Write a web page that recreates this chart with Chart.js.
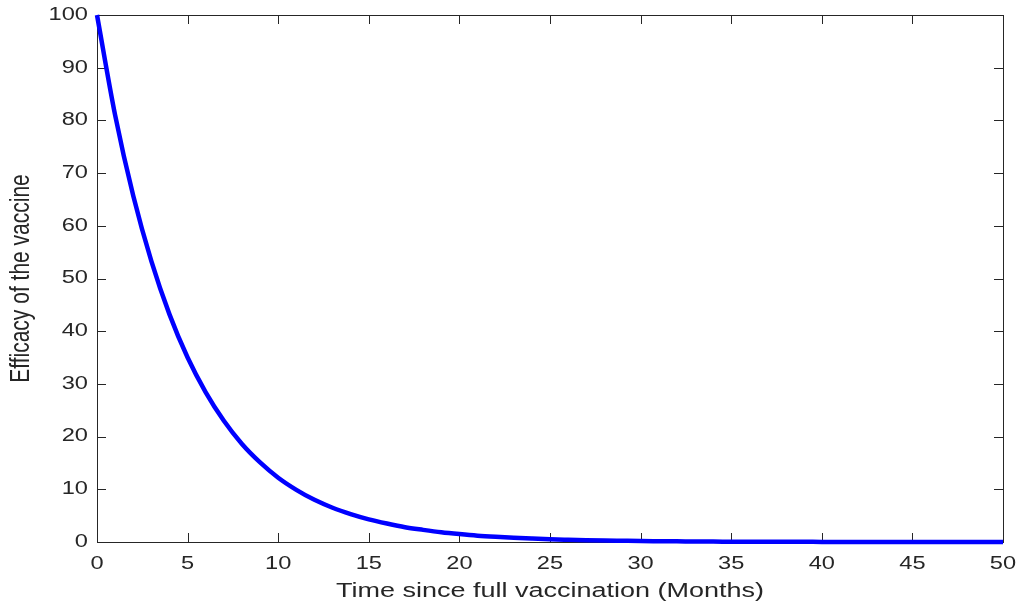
<!DOCTYPE html>
<html lang="en">
<head>
    <meta charset="UTF-8">
    <title>Efficacy of the vaccine</title>
    <script src="https://cdn.jsdelivr.net/npm/chart.js"></script>
    <style>
        body { margin: 0; background: #fff; }
        #wrap { width: 1021px; height: 605px; position: relative; }
    </style>
</head>
<body>
    <div id="wrap"><canvas id="myChart"></canvas></div>
    <script>
        // months since full vaccination and efficacy
        const months = [0, 1, 2, 3, 4, 5, 6, 7, 8, 9, 10, 11, 12, 13, 14, 15, 16, 17, 18, 19, 20,
            21, 22, 23, 24, 25, 26, 27, 28, 29, 30, 31, 32, 33, 34, 35, 36, 37, 38, 39, 40,
            41, 42, 43, 44, 45, 46, 47, 48, 49, 50];
        const efficacy = [100, 81, 65.7, 53.3, 43.2, 35, 28.4, 23, 18.6, 15.1, 12.2, 9.9, 8.0, 6.5, 5.3, 4.3, 3.5, 2.8, 2.3, 1.85, 1.5,
            1.2, 0.98, 0.8, 0.65, 0.52, 0.43, 0.35, 0.28, 0.23, 0.18, 0.15, 0.12, 0.1, 0.08, 0.06, 0.05, 0.04, 0.03, 0.03, 0.02,
            0.02, 0.01, 0.01, 0.01, 0.01, 0.01, 0, 0, 0, 0];
        const xTicks = [0, 5, 10, 15, 20, 25, 30, 35, 40, 45, 50];
        const yTicks = [0, 10, 20, 30, 40, 50, 60, 70, 80, 90, 100];
        const xTitle = 'Time since full vaccination (Months)';
        const yTitle = 'Efficacy of the vaccine';

        const textColor = '#262626';
        const stretch = 1.35; // the figure text is wider than normal

        function stretchedText(ctx, text, x, y, size, align) {
            ctx.save();
            ctx.translate(x, y);
            ctx.scale(stretch, 1);
            ctx.font = size + 'px "Liberation Sans", Arial, sans-serif';
            ctx.fillStyle = textColor;
            ctx.textAlign = align;
            ctx.textBaseline = 'middle';
            ctx.fillText(text, 0, 0);
            ctx.restore();
        }

        // matlab style box with inward ticks
        const boxPlugin = {
            id: 'box',
            beforeDatasetsDraw(chart) {
                const ctx = chart.ctx;
                const a = chart.chartArea;
                const xs = chart.scales.x, ys = chart.scales.y;
                ctx.save();
                ctx.strokeStyle = textColor;
                ctx.lineWidth = 1;
                ctx.strokeRect(a.left + 0.5, a.top + 0.5, a.right - a.left, a.bottom - a.top);
                ctx.beginPath();
                xTicks.forEach(v => {
                    const px = Math.round(xs.getPixelForValue(v)) + 0.5;
                    ctx.moveTo(px, a.bottom); ctx.lineTo(px, a.bottom - 9);
                    ctx.moveTo(px, a.top); ctx.lineTo(px, a.top + 9);
                });
                yTicks.forEach(v => {
                    const py = Math.round(ys.getPixelForValue(v)) + 0.5;
                    ctx.moveTo(a.left, py); ctx.lineTo(a.left + 9, py);
                    ctx.moveTo(a.right, py); ctx.lineTo(a.right - 9, py);
                });
                ctx.stroke();
                ctx.restore();
            },
            afterDraw(chart) {
                const ctx = chart.ctx;
                const a = chart.chartArea;
                const xs = chart.scales.x, ys = chart.scales.y;
                xTicks.forEach(v => {
                    stretchedText(ctx, String(v), xs.getPixelForValue(v), a.bottom + 22, 17.5, 'center');
                });
                yTicks.forEach(v => {
                    stretchedText(ctx, String(v), a.left - 9, ys.getPixelForValue(v), 17.5, 'right');
                });
                stretchedText(ctx, xTitle, (a.left + a.right) / 2, a.bottom + 49, 20, 'center');

                // rotated y title, stretched across its height
                ctx.save();
                ctx.translate(21, (a.top + a.bottom) / 2);
                ctx.rotate(-Math.PI / 2);
                ctx.scale(1, stretch);
                ctx.font = '21px "Liberation Sans", Arial, sans-serif';
                ctx.fillStyle = textColor;
                ctx.textAlign = 'center';
                ctx.textBaseline = 'middle';
                ctx.fillText(yTitle, 0, 0);
                ctx.restore();
            }
        };

        const ctx = document.getElementById('myChart').getContext('2d');
        const chart = new Chart(ctx, {
            type: 'line',
            data: {
                datasets: [{
                    label: 'Efficacy',
                    data: months.map((m, i) => ({ x: m, y: efficacy[i] })),
                    borderColor: '#0000ff',
                    borderWidth: 4.5,
                    pointRadius: 0,
                    cubicInterpolationMode: 'monotone',
                    clip: false
                }]
            },
            options: {
                responsive: true,
                maintainAspectRatio: false,
                animation: false,
                layout: { padding: { top: 15, right: 18, left: 0, bottom: 0 } },
                plugins: { legend: { display: false }, tooltip: { enabled: false } },
                scales: {
                    x: {
                        type: 'linear', min: 0, max: 50,
                        ticks: { display: false, stepSize: 5 },
                        grid: { display: false },
                        border: { display: false },
                        afterFit(scale) { scale.height = 63; }
                    },
                    y: {
                        min: 0, max: 100,
                        ticks: { display: false, stepSize: 10 },
                        grid: { display: false },
                        border: { display: false },
                        afterFit(scale) { scale.width = 97; }
                    }
                }
            },
            plugins: [boxPlugin]
        });
    </script>
</body>
</html>
